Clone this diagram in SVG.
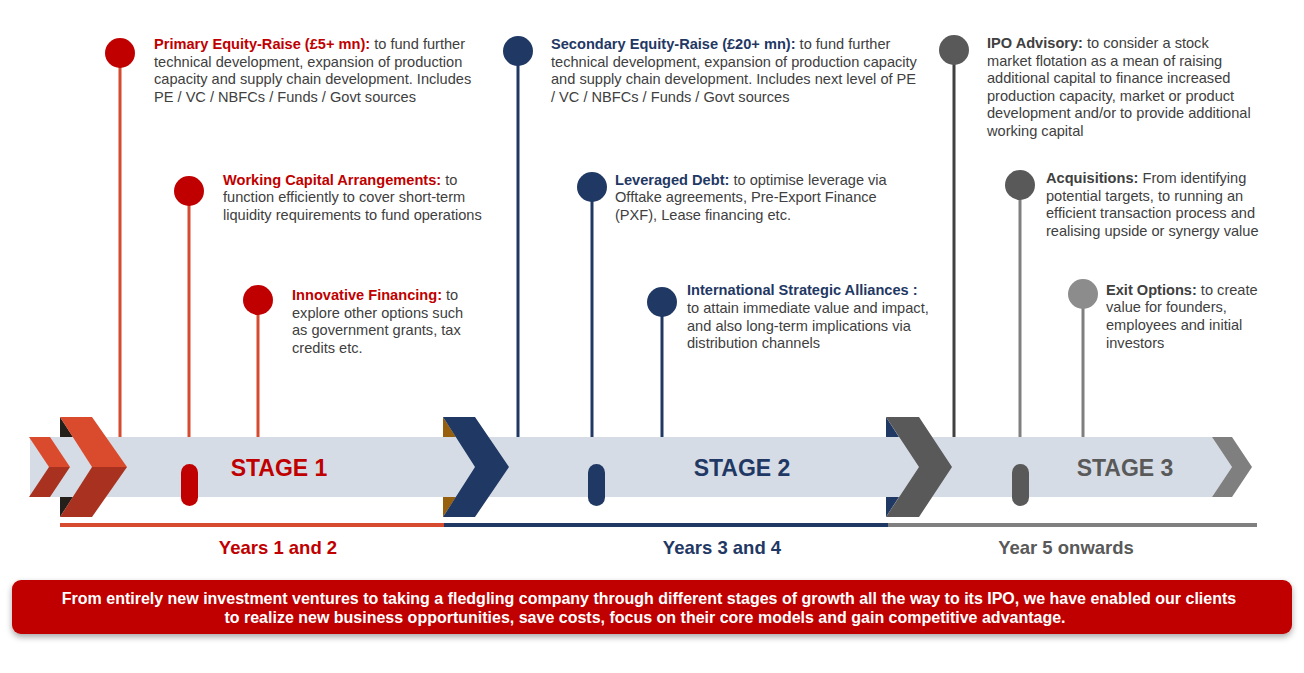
<svg xmlns="http://www.w3.org/2000/svg" width="1304" height="673" viewBox="0 0 1304 673">
<defs>
<style>
text{font-family:"Liberation Sans",Arial,sans-serif}
.b{font-size:14.6px;fill:#404040}
.hr{font-weight:bold;fill:#C00000}
.hn{font-weight:bold;fill:#1F3864}
.hg{font-weight:bold;fill:#404040}
.st{font-size:23px;font-weight:bold;text-anchor:middle}
.yr{font-size:18.5px;font-weight:bold;text-anchor:middle}
.ban{font-size:16px;font-weight:bold;fill:#fff;text-anchor:middle}
.l1{stroke:#D64B2F;stroke-width:3}
.l2{stroke:#1F3864;stroke-width:3}
.l3{stroke:#404040;stroke-width:3}
.l3b{stroke:#7F7F7F;stroke-width:3}
</style>
<filter id="sh" x="-5%" y="-30%" width="110%" height="160%">
<feDropShadow dx="0" dy="3" stdDeviation="3" flood-color="#000" flood-opacity="0.35"/>
</filter>
</defs>
<rect width="1304" height="673" fill="#fff"/>

<g id="band">
<polygon points="30,437 1212,437 1232,467 1212,497 30,497" fill="#D6DCE5"/>
<polygon points="1212,437 1232,437 1252,467 1232,497 1212,497 1232,467" fill="#7F7F7F"/>
<polygon points="29,437 50,437 70,467 49,467" fill="#DA4A2C"/>
<polygon points="49,467 70,467 50,497 29,497" fill="#A8321F"/>
<polygon points="60,417 60,437 73,437" fill="#231F1A"/>
<polygon points="60,497 73,497 60,517" fill="#231F1A"/>
<polygon points="60,417 92,417 127,467 92,467" fill="#DA4A2C"/>
<polygon points="92,467 127,467 92,517 60,517" fill="#A8321F"/>
<polygon points="443,417 443,437 456,437" fill="#97600F"/>
<polygon points="443,497 456,497 443,517" fill="#97600F"/>
<polygon points="443,417 475,417 509,467 475,517 443,517 475,467" fill="#1F3864"/>
<polygon points="886,417 886,437 899,437" fill="#1F3864"/>
<polygon points="886,497 899,497 886,517" fill="#1F3864"/>
<polygon points="886,417 919,417 952,467 919,517 886,517 919,467" fill="#595959"/>
<rect x="181" y="464" width="17" height="42" rx="8.5" fill="#C00000"/>
<rect x="588" y="464" width="17" height="42" rx="8.5" fill="#1F3864"/>
<rect x="1012" y="464" width="17" height="42" rx="8.5" fill="#595959"/>
<text class="st" x="279" y="476" fill="#C00000">STAGE 1</text>
<text class="st" x="742" y="476" fill="#1F3864">STAGE 2</text>
<text class="st" x="1125" y="476" fill="#595959">STAGE 3</text>
<rect x="60" y="523" width="384" height="4" fill="#D64B2F"/>
<rect x="444" y="523" width="444" height="4" fill="#1F3864"/>
<rect x="888" y="523" width="369" height="4" fill="#7F7F7F"/>
<text class="yr" x="278" y="554" fill="#C00000">Years 1 and 2</text>
<text class="yr" x="722" y="554" fill="#1F3864">Years 3 and 4</text>
<text class="yr" x="1066" y="554" fill="#595959">Year 5 onwards</text>
</g>

<g id="connectors">
<line class="l1" x1="120" y1="53" x2="120" y2="437"/>
<line class="l1" x1="189" y1="191" x2="189" y2="437"/>
<line class="l1" x1="258" y1="300" x2="258" y2="437"/>
<line class="l2" x1="518" y1="51" x2="518" y2="437"/>
<line class="l2" x1="592" y1="187" x2="592" y2="437"/>
<line class="l2" x1="662" y1="302" x2="662" y2="437"/>
<line class="l3" x1="954" y1="50" x2="954" y2="437"/>
<line class="l3b" x1="1020" y1="185" x2="1020" y2="437"/>
<line class="l3b" x1="1083" y1="294" x2="1083" y2="437"/>
</g>

<g id="primary-equity">
<circle cx="120" cy="53" r="15" fill="#C00000"/>
<text class="b" x="154" y="49"><tspan class="hr">Primary Equity-Raise (£5+ mn):</tspan> to fund further</text>
<text class="b" x="154" y="67">technical development, expansion of production</text>
<text class="b" x="154" y="84">capacity and supply chain development. Includes</text>
<text class="b" x="154" y="102">PE / VC / NBFCs / Funds / Govt sources</text>
</g>
<g id="working-capital">
<circle cx="189" cy="191" r="15" fill="#C00000"/>
<text class="b" x="223" y="185"><tspan class="hr">Working Capital Arrangements:</tspan> to</text>
<text class="b" x="223" y="202">function efficiently to cover short-term</text>
<text class="b" x="223" y="220">liquidity requirements to fund operations</text>
</g>
<g id="innovative-financing">
<circle cx="258" cy="300" r="15" fill="#C00000"/>
<text class="b" x="292" y="300"><tspan class="hr">Innovative Financing:</tspan> to</text>
<text class="b" x="292" y="318">explore other options such</text>
<text class="b" x="292" y="335">as government grants, tax</text>
<text class="b" x="292" y="353">credits etc.</text>
</g>

<g id="secondary-equity">
<circle cx="518" cy="51" r="15" fill="#1F3864"/>
<text class="b" x="551" y="49"><tspan class="hn">Secondary Equity-Raise (£20+ mn):</tspan> to fund further</text>
<text class="b" x="551" y="67">technical development, expansion of production capacity</text>
<text class="b" x="551" y="84">and supply chain development. Includes next level of PE</text>
<text class="b" x="551" y="102">/ VC / NBFCs / Funds / Govt sources</text>
</g>
<g id="leveraged-debt">
<circle cx="592" cy="187" r="15" fill="#1F3864"/>
<text class="b" x="615" y="185"><tspan class="hn">Leveraged Debt:</tspan> to optimise leverage via</text>
<text class="b" x="615" y="202">Offtake agreements, Pre-Export Finance</text>
<text class="b" x="615" y="220">(PXF), Lease financing etc.</text>
</g>
<g id="strategic-alliances">
<circle cx="662" cy="302" r="15" fill="#1F3864"/>
<text class="b" x="687" y="295"><tspan class="hn">International Strategic Alliances :</tspan></text>
<text class="b" x="687" y="313">to attain immediate value and impact,</text>
<text class="b" x="687" y="331">and also long-term implications via</text>
<text class="b" x="687" y="348">distribution channels</text>
</g>

<g id="ipo-advisory">
<circle cx="954" cy="50" r="15" fill="#595959"/>
<text class="b" x="987" y="48"><tspan class="hg">IPO Advisory:</tspan> to consider a stock</text>
<text class="b" x="987" y="66">market flotation as a mean of raising</text>
<text class="b" x="987" y="83">additional capital to finance increased</text>
<text class="b" x="987" y="101">production capacity, market or product</text>
<text class="b" x="987" y="118">development and/or to provide additional</text>
<text class="b" x="987" y="136">working capital</text>
</g>
<g id="acquisitions">
<circle cx="1020" cy="185" r="15" fill="#595959"/>
<text class="b" x="1046" y="183"><tspan class="hg">Acquisitions:</tspan>  From identifying</text>
<text class="b" x="1046" y="201">potential targets, to running an</text>
<text class="b" x="1046" y="218">efficient transaction process and</text>
<text class="b" x="1046" y="236">realising upside or synergy value</text>
</g>
<g id="exit-options">
<circle cx="1083" cy="294" r="15" fill="#8C8C8C"/>
<text class="b" x="1106" y="295"><tspan class="hg">Exit Options:</tspan> to create</text>
<text class="b" x="1106" y="312">value for founders,</text>
<text class="b" x="1106" y="330">employees and initial</text>
<text class="b" x="1106" y="348">investors</text>
</g>

<g id="banner">
<rect x="12" y="580" width="1280" height="54" rx="9" fill="#C00000" filter="url(#sh)"/>
<text class="ban" x="649" y="604">From entirely  new investment ventures to taking a fledgling company through different stages of growth all the way to its IPO, we have enabled our clients</text>
<text class="ban" x="645" y="623">to realize new business opportunities, save costs, focus on their core models and gain competitive advantage.</text>
</g>
</svg>
